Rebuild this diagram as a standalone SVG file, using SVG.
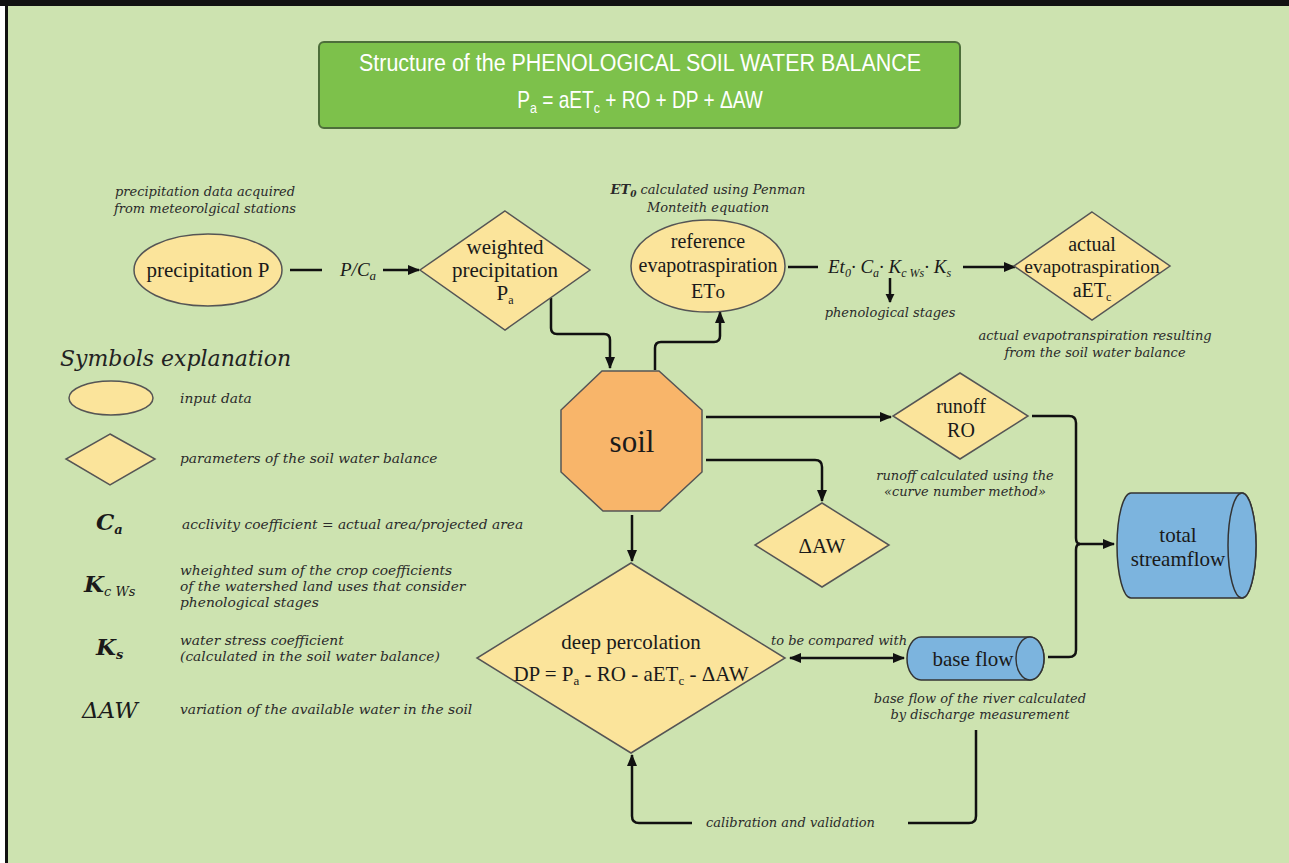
<svg xmlns="http://www.w3.org/2000/svg" width="1289" height="863" viewBox="0 0 1289 863">
<defs>
<marker id="ah" viewBox="0 0 12 10" refX="11" refY="5" markerWidth="12" markerHeight="10" markerUnits="userSpaceOnUse" orient="auto-start-reverse"><path d="M0,0 L12,5 L0,10 Z" fill="#111"/></marker>
<marker id="ahs" viewBox="0 0 10 10" refX="9" refY="5" markerWidth="9" markerHeight="10" markerUnits="userSpaceOnUse" orient="auto"><path d="M0,0 L10,5 L0,10 Z" fill="#111"/></marker>
</defs>
<style>
.bg{fill:#cde3b0}
.yel{fill:#fbe49b;stroke:#555;stroke-width:1.5}
.org{fill:#f8b56a;stroke:#555;stroke-width:1.5}
.blu{fill:#7cb4de;stroke:#333;stroke-width:1.5}
.ln{fill:none;stroke:#111;stroke-width:2.5;stroke-linejoin:round}
.nt{font-family:"Liberation Serif",serif;fill:#1a1a1a;text-anchor:middle}
.it{font-family:"DejaVu Serif",serif;font-style:italic;fill:#2a2a2a;font-size:13px}
.lg{font-family:"DejaVu Serif",serif;font-style:italic;fill:#2a2a2a;font-size:13.8px}
.itc{font-family:"DejaVu Serif",serif;font-style:italic;fill:#2a2a2a;font-size:13px;text-anchor:middle}
.sym{font-family:"DejaVu Serif",serif;font-style:italic;font-weight:bold;fill:#1a1a1a;font-size:23px}
.ttl{font-family:"Liberation Sans",sans-serif;fill:#fff;text-anchor:middle;font-size:23px}
.fm{font-family:"Liberation Serif",serif;font-style:italic;fill:#1a1a1a;font-size:19px}
</style>
<rect x="0" y="0" width="1289" height="863" fill="#fff"/>
<rect class="bg" x="8" y="6" width="1281" height="857"/>
<rect x="0" y="0" width="1289" height="6" fill="#111"/>
<rect x="5" y="0" width="3" height="863" fill="#111"/>

<g id="title">
<rect x="319" y="42" width="641" height="86" rx="5" fill="#7dc14b" stroke="#4d6e3a" stroke-width="2"/>
<text class="ttl" x="640" y="71" textLength="562" lengthAdjust="spacingAndGlyphs">Structure of the PHENOLOGICAL SOIL WATER BALANCE</text>
<g transform="translate(640,0) scale(0.83,1) translate(-640,0)">
<text class="ttl" x="640" y="108">P<tspan font-size="15" dy="5">a</tspan><tspan dy="-5"> = aET</tspan><tspan font-size="15" dy="5">c</tspan><tspan dy="-5"> + RO + DP + ΔAW</tspan></text>
</g>
</g>

<g id="connectors">
<path class="ln" d="M290,270 H322"/>
<path class="ln" d="M383,270 H419" marker-end="url(#ah)"/>
<path class="ln" d="M788,267 H818"/>
<path class="ln" d="M963,267 H1015" marker-end="url(#ah)"/>
<path class="ln" d="M890,278 V302" stroke-width="1.5" marker-end="url(#ahs)"/>
<path class="ln" d="M551,298 V328 Q551,334 557,334 H604 Q610,334 610,340 V368" marker-end="url(#ah)"/>
<path class="ln" d="M655,370 V348 Q655,342 661,342 H714 Q720,342 720,336 V312" marker-end="url(#ah)"/>
<path class="ln" d="M706,417 H891" marker-end="url(#ah)"/>
<path class="ln" d="M706,460 H815 Q822,460 822,467 V501" marker-end="url(#ah)"/>
<path class="ln" d="M632,515 V561" marker-end="url(#ah)"/>
<path class="ln" d="M790,658 H904" marker-start="url(#ah)" marker-end="url(#ah)"/>
<path class="ln" d="M1032,416 H1069 Q1076,416 1076,423 V538 Q1076,544 1080,544"/>
<path class="ln" d="M1048,657 H1069 Q1076,657 1076,650 V550 Q1076,544 1080,544"/>
<path class="ln" d="M1078,544 H1114" marker-end="url(#ah)"/>
<path class="ln" d="M976,730 V816 Q976,823 969,823 H908"/>
<path class="ln" d="M692,823 H639 Q632,823 632,816 V755" marker-end="url(#ah)"/>
</g>

<g id="precip-note"><text class="itc" x="205" y="196">precipitation data acquired</text><text class="itc" x="205" y="213">from meteorolgical stations</text></g>

<g id="precipitation">
<ellipse class="yel" cx="208" cy="270" rx="74" ry="36"/>
<text class="nt" x="208" y="277" font-size="21">precipitation P</text>
</g>

<g id="pca"><text class="fm" x="340" y="276">P/C<tspan font-size="13" dy="4">a</tspan></text></g>

<g id="weighted">
<polygon class="yel" points="505,211 590,270 505,330 420,270"/>
<text class="nt" x="505" y="254" font-size="21">weighted</text>
<text class="nt" x="505" y="277" font-size="21">precipitation</text>
<text class="nt" x="505" y="300" font-size="21">P<tspan font-size="12" dy="4">a</tspan></text>
</g>

<g id="et0-note"><text class="itc" x="708" y="194"><tspan font-weight="bold">ET</tspan><tspan font-size="9" dy="3" font-weight="bold">0</tspan><tspan dy="-3"> calculated using Penman</tspan></text><text class="itc" x="708" y="212">Monteith equation</text></g>

<g id="et0">
<ellipse class="yel" cx="708" cy="266" rx="77" ry="46"/>
<text class="nt" x="708" y="248" font-size="20">reference</text>
<text class="nt" x="708" y="272" font-size="20">evapotraspiration</text>
<text class="nt" x="708" y="298" font-size="20">ET<tspan font-size="19">o</tspan></text>
</g>

<g id="formula"><text class="fm" x="828" y="273">Et<tspan font-size="12" dy="4">0</tspan><tspan dy="-4">· C</tspan><tspan font-size="12" dy="4">a</tspan><tspan dy="-4">· K</tspan><tspan font-size="12" dy="4">c Ws</tspan><tspan dy="-4">· K</tspan><tspan font-size="12" dy="4">s</tspan></text>
<text class="itc" x="890" y="317">phenological stages</text></g>

<g id="aetc">
<polygon class="yel" points="1092,212 1170,266 1092,320 1014,266"/>
<text class="nt" x="1092" y="251" font-size="20">actual</text>
<text class="nt" x="1092" y="273" font-size="19.5">evapotraspiration</text>
<text class="nt" x="1092" y="297" font-size="20">aET<tspan font-size="12" dy="4">c</tspan></text>
</g>
<g id="aetc-note"><text class="itc" x="1095" y="340">actual evapotranspiration resulting</text><text class="itc" x="1095" y="357">from the soil water balance</text></g>

<g id="legend">
<text x="60" y="366" font-family="DejaVu Serif, serif" font-style="italic" font-size="22" fill="#222">Symbols explanation</text>
<ellipse class="yel" cx="111" cy="398" rx="42" ry="17"/>
<text class="lg" x="180" y="403">input data</text>
<polygon class="yel" points="110,434 155,459 110,485 66,459"/>
<text class="lg" x="180" y="463">parameters of the soil water balance</text>
<text class="sym" x="96" y="530">C<tspan font-size="13" dy="4">a</tspan></text>
<text class="lg" x="182" y="529">acclivity coefficient = actual area/projected area</text>
<text class="sym" x="84" y="592">K<tspan font-size="13" dy="4" font-weight="normal">c Ws</tspan></text>
<text class="lg" x="180" y="575">wheighted sum of the crop coefficients</text>
<text class="lg" x="180" y="591">of the watershed land uses that consider</text>
<text class="lg" x="180" y="607">phenological stages</text>
<text class="sym" x="96" y="655">K<tspan font-size="13" dy="4">s</tspan></text>
<text class="lg" x="180" y="645">water stress coefficient</text>
<text class="lg" x="180" y="661">(calculated in the soil water balance)</text>
<text x="82" y="718" font-family="DejaVu Serif, serif" font-style="italic" font-size="23" fill="#1a1a1a">ΔAW</text>
<text class="lg" x="180" y="714">variation of the available water in the soil</text>
</g>

<g id="soil">
<polygon class="org" points="602,371 659,371 702,410 702,472 660,511 603,511 561,472 561,410"/>
<text class="nt" x="632" y="452" font-size="31">soil</text>
</g>

<g id="runoff">
<polygon class="yel" points="960,373 1028,416 960,459 893,416"/>
<text class="nt" x="961" y="413" font-size="20">runoff</text>
<text class="nt" x="961" y="437" font-size="20">RO</text>
</g>
<g id="runoff-note"><text class="itc" x="965" y="480">runoff calculated using the</text><text class="itc" x="965" y="496">«curve number method»</text></g>

<g id="daw">
<polygon class="yel" points="822,503 889,545 822,587 755,545"/>
<text class="nt" x="822" y="553" font-size="21">ΔAW</text>
</g>

<g id="deep">
<polygon class="yel" points="631,563 785,658 631,753 477,658"/>
<text class="nt" x="631" y="649" font-size="21">deep percolation</text>
<text class="nt" x="631" y="681" font-size="21">DP = P<tspan font-size="13" dy="4">a</tspan><tspan dy="-4"> - RO - aET</tspan><tspan font-size="13" dy="4">c</tspan><tspan dy="-4"> - ΔAW</tspan></text>
</g>
<g id="compare"><text class="it" x="771" y="645">to be compared with</text></g>

<g id="baseflow">
<path class="blu" d="M921,637 H1030 A14,21.5 0 0 1 1030,680 H921 A14,21.5 0 0 1 921,637 Z"/>
<ellipse class="blu" cx="1030" cy="658.5" rx="14" ry="21.5"/>
<text class="nt" x="973" y="666" font-size="21">base flow</text>
</g>
<g id="baseflow-note"><text class="itc" x="980" y="703">base flow of the river calculated</text><text class="itc" x="980" y="719">by discharge measurement</text></g>

<g id="streamflow">
<path class="blu" d="M1131,493 H1242 A14,52.5 0 0 1 1242,598 H1131 A14,52.5 0 0 1 1131,493 Z"/>
<ellipse class="blu" cx="1242" cy="545.5" rx="14" ry="52.5"/>
<text class="nt" x="1178" y="542" font-size="21">total</text>
<text class="nt" x="1178" y="566" font-size="21">streamflow</text>
</g>

<g id="calib"><text class="it" x="706" y="827" font-size="14">calibration and validation</text></g>
</svg>
